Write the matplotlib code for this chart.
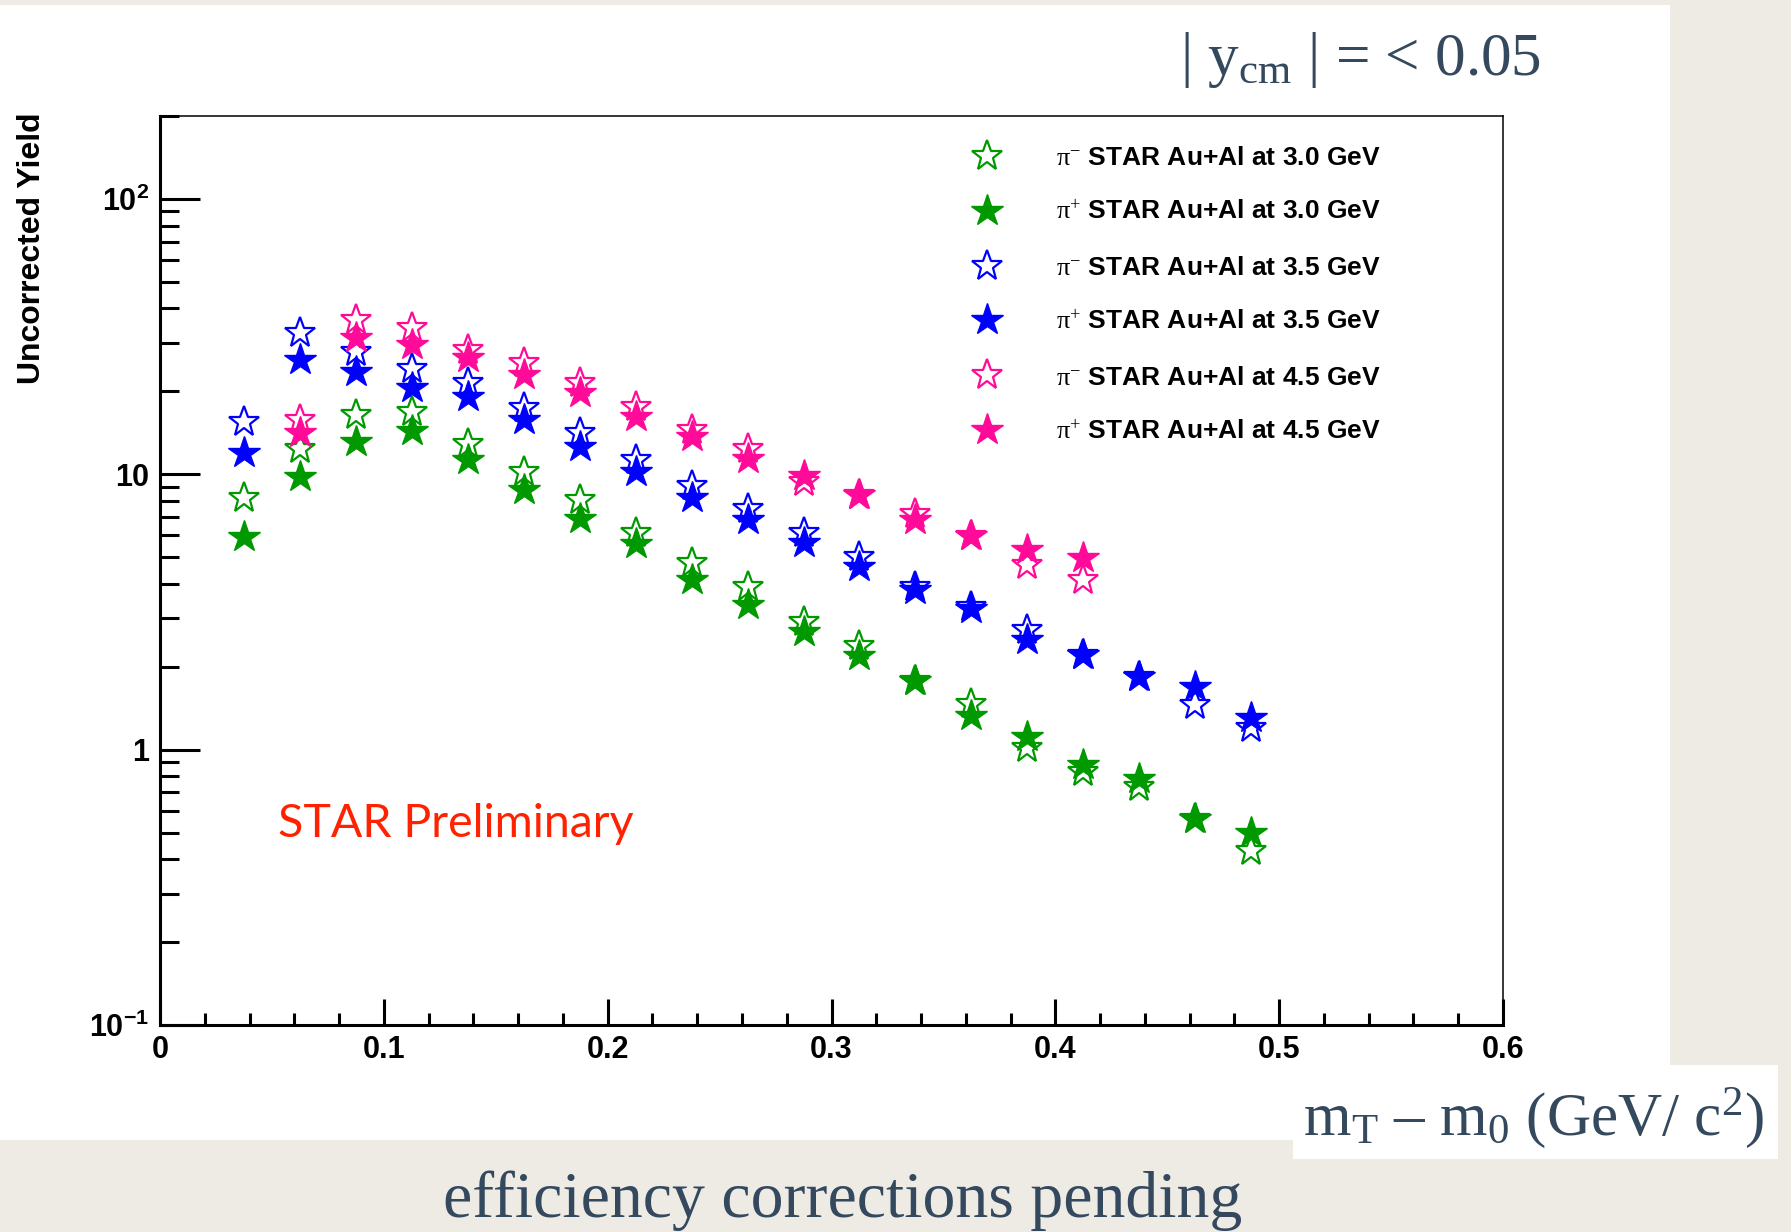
# -*- coding: utf-8 -*-
import matplotlib
matplotlib.use('Agg')
import matplotlib.pyplot as plt
from matplotlib.patches import Rectangle
from matplotlib.ticker import FixedLocator, FixedFormatter, LogLocator, NullFormatter, MultipleLocator, FuncFormatter

plt.rcParams['mathtext.fontset'] = 'custom'
plt.rcParams['mathtext.rm'] = 'Liberation Serif'
plt.rcParams['mathtext.it'] = 'Liberation Serif:italic'
plt.rcParams['mathtext.bf'] = 'Liberation Sans:bold'

# bin centres in mT - m0 (GeV/c^2)
mt = [0.0375, 0.0625, 0.0875, 0.1125, 0.1375, 0.1625, 0.1875, 0.2125, 0.2375, 0.2625,
      0.2875, 0.3125, 0.3375, 0.3625, 0.3875, 0.4125, 0.4375, 0.4625, 0.4875]
mt_45 = mt[1:16]

# uncorrected yields
pim_30 = [8.2, 12.4, 16.4, 16.9, 12.9, 10.2, 8.07, 6.1, 4.75, 3.9,
          2.9, 2.37, 1.77, 1.46, 1.01, 0.83, 0.73, 0.56, 0.43]
pip_30 = [5.9, 9.8, 13.1, 14.3, 11.3, 8.8, 6.9, 5.6, 4.13, 3.35,
          2.67, 2.18, 1.77, 1.33, 1.11, 0.88, 0.78, 0.56, 0.50]
pim_35 = [15.5, 32.5, 27.9, 24.1, 21.4, 17.4, 14.1, 11.3, 9.07, 7.5,
          6.1, 5.0, 3.9, 3.3, 2.72, 2.2, 1.84, 1.45, 1.2]
pip_35 = [11.9, 26.0, 23.6, 20.5, 19.1, 15.7, 12.6, 10.2, 8.2, 6.8,
          5.65, 4.6, 3.8, 3.25, 2.5, 2.2, 1.84, 1.69, 1.30]
pim_45 = [15.7, 36.4, 33.9, 28.3, 25.3, 21.4, 17.6, 14.5, 12.4, 9.4,
          8.4, 7.2, 5.97, 4.7, 4.13]
pip_45 = [14.1, 31.2, 29.5, 26.4, 22.9, 19.7, 16.2, 13.6, 11.4, 9.85,
          8.4, 6.8, 5.97, 5.3, 4.95]

y_ticks = [0.1, 1, 10, 100]
y_tick_labels = [r'$\mathbf{10^{-1}}$', '1', '10', r'$\mathbf{10^{2}}$']

GREEN = '#009900'
BLUE = '#0000ff'
PINK = '#ff0a99'
SLATE = '#34495e'

W, H = 1791, 1232
fig = plt.figure(figsize=(W / 100, H / 100), dpi=100)
fig.patch.set_facecolor('#eeebe5')


def white_box(x0, y0, x1, y1):
    # pixel box, origin top-left
    fig.add_artist(Rectangle((x0 / W, 1 - y1 / H), (x1 - x0) / W, (y1 - y0) / H,
                             transform=fig.transFigure, facecolor='white',
                             edgecolor='none', zorder=0))


white_box(0, 5, 1670, 1140)
white_box(1293, 1065, 1778, 1159)

ax = fig.add_axes([160 / W, 1 - 1025 / H, (1503 - 160) / W, (1025 - 116) / H])
ax.set_facecolor('white')


def draw_series(x, y, color, filled, label):
    if filled:
        ax.plot(x, y, linestyle='none', marker='*', ms=24, mfc=color, mec=color,
                mew=1.0, label=label)
    else:
        ax.plot(x, y, linestyle='none', marker='*', ms=23, mfc='none', mec=color,
                mew=1.6, label=label)


draw_series(mt, pim_30, GREEN, False, r'$\mathrm{\pi^{-}}$ STAR Au+Al at 3.0 GeV')
draw_series(mt, pip_30, GREEN, True, r'$\mathrm{\pi^{+}}$ STAR Au+Al at 3.0 GeV')
draw_series(mt, pim_35, BLUE, False, r'$\mathrm{\pi^{-}}$ STAR Au+Al at 3.5 GeV')
draw_series(mt, pip_35, BLUE, True, r'$\mathrm{\pi^{+}}$ STAR Au+Al at 3.5 GeV')
draw_series(mt_45, pim_45, PINK, False, r'$\mathrm{\pi^{-}}$ STAR Au+Al at 4.5 GeV')
draw_series(mt_45, pip_45, PINK, True, r'$\mathrm{\pi^{+}}$ STAR Au+Al at 4.5 GeV')

ax.set_yscale('log')
ax.set_xlim(0, 0.6)
ax.set_ylim(0.1, 200)

ax.yaxis.set_major_locator(FixedLocator(y_ticks))
ax.yaxis.set_major_formatter(FixedFormatter(y_tick_labels))
ax.yaxis.set_minor_locator(LogLocator(base=10, subs=range(2, 10)))
ax.yaxis.set_minor_formatter(NullFormatter())
ax.xaxis.set_major_locator(MultipleLocator(0.1))
ax.xaxis.set_minor_locator(MultipleLocator(0.02))
ax.xaxis.set_major_formatter(FuncFormatter(lambda v, p: '%g' % round(v, 2)))

for side in ['left', 'bottom']:
    ax.spines[side].set_linewidth(2.2)
for side in ['top', 'right']:
    ax.spines[side].set_linewidth(1.1)

ax.tick_params(axis='both', which='both', direction='in', top=False, right=False,
               width=2.2, labelsize=22)
ax.tick_params(axis='y', which='major', length=29, pad=8)
ax.tick_params(axis='y', which='minor', length=14)
ax.tick_params(axis='x', which='major', length=19, pad=7)
ax.tick_params(axis='x', which='minor', length=9)
for lab in ax.get_xticklabels() + ax.get_yticklabels():
    lab.set_fontfamily('Liberation Sans')
    lab.set_fontweight('bold')

leg = ax.legend(loc='upper left', bbox_to_anchor=(962 / W, 1 - 146 / H),
                bbox_transform=fig.transFigure, frameon=False, numpoints=1,
                prop={'family': 'Liberation Sans', 'weight': 'bold', 'size': 19},
                handlelength=1.9, handletextpad=1.65, labelspacing=1.17,
                borderpad=0, borderaxespad=0)

fig.text(32 / W, 1 - 112 / H, 'Uncorrected Yield', rotation=90, ha='center', va='top',
         fontsize=23, fontweight='bold', family='Liberation Sans')

fig.text(278 / W, 1 - 837 / H, 'STAR Preliminary', color='#ff2200', fontsize=33.5,
         family='Lato', fontweight='normal', va='baseline')

fig.text(1180 / W, 1 - 75 / H, r'| y$_\mathrm{cm}$ | = < 0.05', family='Liberation Serif',
         fontsize=44, color=SLATE, va='baseline')
fig.text(1303 / W, 1 - 1135 / H, r'm$_\mathrm{T}$ – m$_\mathrm{0}$ (GeV/ c$^\mathrm{2}$)',
         family='Liberation Serif', fontsize=44, color=SLATE, va='baseline')
fig.text(443 / W, 1 - 1217 / H, 'efficiency corrections pending', family='Liberation Serif',
         fontsize=47.3, color=SLATE, va='baseline')

fig.savefig('out.png', dpi=100, facecolor=fig.get_facecolor())
